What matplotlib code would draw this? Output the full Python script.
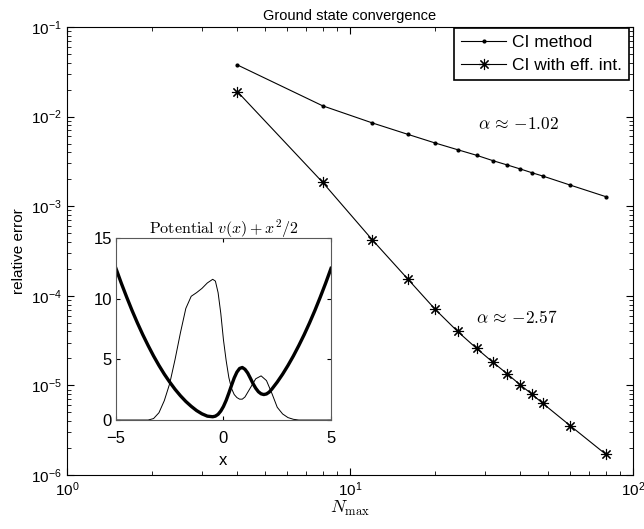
import matplotlib
matplotlib.use("Agg")
from matplotlib import pyplot as plt

plt.rcParams["font.family"] = ["Liberation Sans", "DejaVu Sans"]
plt.rcParams["mathtext.fontset"] = "cm"

# main convergence data
n_max = [4, 8, 12, 16, 20, 24, 28, 32, 36, 40, 44, 48, 60, 80]
err_ci = [0.0377, 0.0132, 0.00849, 0.00634, 0.00507, 0.00427, 0.00370,
          0.00322, 0.00288, 0.00260, 0.00236, 0.00217, 0.00172, 0.00128]
err_eff = [0.0190, 0.00185, 4.2e-4, 1.54e-4, 7.06e-5, 4.0e-5, 2.59e-5,
           1.81e-5, 1.34e-5, 1.01e-5, 7.95e-6, 6.3e-6, 3.55e-6, 1.71e-6]

# inset: potential (thick) and density (thin)
x_pot = [-5, -4.75, -4.5, -4.25, -4, -3.75, -3.5, -3.25, -3, -2.75, -2.5,
         -2.25, -2, -1.75, -1.5, -1.25, -1, -0.75, -0.5, -0.375, -0.25,
         -0.125, 0, 0.125, 0.25, 0.375, 0.5, 0.625, 0.75, 0.875, 1.0, 1.125,
         1.25, 1.375, 1.5, 1.625, 1.75, 1.875, 2.0, 2.125, 2.25, 2.5, 2.75,
         3, 3.25, 3.5, 3.75, 4, 4.25, 4.5, 4.75, 5]
v_pot = [12.5, 11.28, 10.13, 9.03, 8.0, 7.03, 6.13, 5.28, 4.5, 3.78, 3.13,
         2.53, 2.0, 1.53, 1.13, 0.78, 0.51, 0.32, 0.27, 0.32, 0.47,
         0.74, 1.12, 1.62, 2.22, 2.86, 3.47, 3.95, 4.25, 4.33, 4.18, 3.88,
         3.45, 3.0, 2.62, 2.33, 2.16, 2.1, 2.15, 2.3, 2.55, 3.13, 3.78,
         4.5, 5.28, 6.13, 7.03, 8.0, 9.03, 10.13, 11.28, 12.5]
x_den = [-5, -4, -3.5, -3.25, -3.0, -2.75, -2.5, -2.25, -2.0, -1.75, -1.5,
         -1.25, -1.0, -0.75, -0.5, -0.375, -0.25, -0.125, 0, 0.125, 0.25,
         0.375, 0.5, 0.625, 0.75, 0.875, 1.0, 1.25, 1.5, 1.75, 2.0, 2.25,
         2.5, 2.75, 3.0, 3.25, 3.5, 4, 5]
rho = [0, 0, 0, 0.12, 0.6, 1.6, 3.0, 5.0, 7.2, 9.2, 10.2,
       10.5, 10.85, 11.3, 11.6, 11.45, 10.5, 8.8, 6.6, 4.9, 3.5,
       2.6, 2.1, 1.85, 1.72, 1.72, 1.9, 2.65, 3.4, 3.64, 3.25, 2.2,
       1.05, 0.5, 0.2, 0.06, 0, 0, 0]

fig = plt.figure(figsize=(6.44, 5.29), dpi=100)
ax = fig.add_axes([0.104, 0.102, 0.879, 0.847])
ax.loglog(n_max, err_ci, "k.-", lw=0.8, ms=4, label="CI method")
ax.loglog(n_max, err_eff, "k-", lw=0.8, marker=(8, 2, 0), ms=8, mew=0.8,
          label="CI with eff. int.")
ax.set_xlim(1, 100)
ax.set_ylim(1e-6, 1e-1)
ax.tick_params(which="both", direction="in", top=True, right=True, labelsize=11)
ax.tick_params(which="major", length=5)
ax.tick_params(which="minor", length=3)
ax.set_xlabel(r"$N_{\max}$", fontsize=13, labelpad=0)
ax.set_ylabel("relative error", fontsize=11)
ax.set_title("Ground state convergence", fontsize=10.5, pad=5)
ax.text(39.5, 0.0083, r"$\alpha\,\approx\,{-}1.02$", fontsize=12.5,
        ha="center", va="center")
ax.text(39, 5.8e-5, r"$\alpha\,\approx\,{-}2.57$", fontsize=12.5,
        ha="center", va="center")
leg = ax.legend(loc="upper right", bbox_to_anchor=(0.992, 0.998),
                fancybox=False, edgecolor="k", framealpha=1, fontsize=12.5,
                borderaxespad=0, handlelength=2.6, borderpad=0.4,
                labelspacing=0.45, handletextpad=0.3)
leg.get_frame().set_linewidth(1.2)

ins = fig.add_axes([0.180, 0.206, 0.334, 0.344])
ins.plot(x_pot, v_pot, "k-", lw=2.4)
ins.plot(x_den, rho, "k-", lw=0.7)
ins.set_xlim(-5, 5)
ins.set_ylim(0, 15)
ins.set_xticks([-5, 0, 5])
ins.set_yticks([0, 5, 10, 15])
ins.tick_params(direction="in", top=True, right=True, length=3,
                labelsize=12)
ins.tick_params(axis="x", pad=8)
ins.tick_params(axis="y", pad=3)
for s in ins.spines.values():
    s.set_color("0.35")
ins.set_xlabel("x", fontsize=12, labelpad=5)
ins.set_title(r"$\mathrm{Potential}\ v(x) + x^2/2$", fontsize=11.5, pad=3)

fig.savefig("out.png", dpi=100)
